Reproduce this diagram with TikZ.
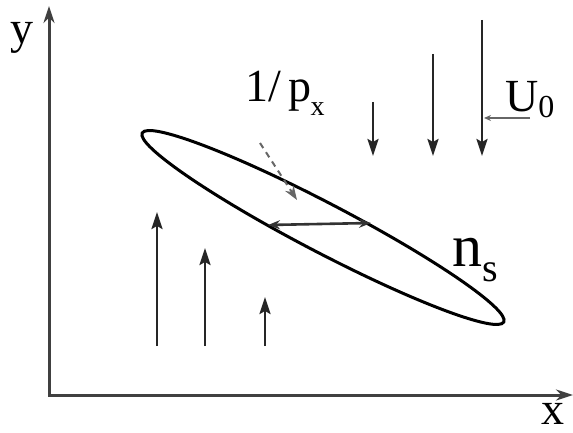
\documentclass[tikz,border=0pt]{standalone}
\usepackage{fontspec}
\setmainfont{Liberation Serif}
\usetikzlibrary{arrows.meta}
\tikzset{
  axisline/.style={line width=3pt, draw=black!75, {Stealth[length=17pt,width=11pt]}-{Stealth[length=17pt,width=11pt]}},
  flowarrow/.style={line width=2.6pt, draw=black!85, -{Stealth[length=17pt,width=11pt,inset=3pt]}},
  chord/.style={line width=2.6pt, draw=black!80, {Stealth[length=12pt,width=9pt]}-{Stealth[length=12pt,width=9pt]}},
  dasharrow/.style={line width=2pt, draw=black!60, dash pattern=on 6pt off 5pt, -{Stealth[length=14pt,width=10pt]}},
  leader/.style={line width=1.8pt, draw=black!60, -{Stealth[length=7pt,width=6pt]}},
  lbl/.style={inner sep=0pt, font=\fontsize{46}{50}\selectfont},
  biglbl/.style={inner sep=0pt, font=\fontsize{60}{64}\selectfont},
}
\begin{document}
\begin{tikzpicture}[x=1pt,y=-1pt]
\useasboundingbox (0,0) rectangle (573,433);
% axes
\coordinate (O) at (49,395);
\coordinate (Ytip) at (49,6);
\coordinate (Xtip) at (573,395);
\draw[axisline] (Ytip) -- (O) -- (Xtip);
\node[lbl] (ylab) at (22,38) {y};
\node[lbl, anchor=base] (xlab) at (553,424) {x};
% ellipse
\coordinate (C) at (323,227.5);
\draw[line width=3pt, rotate around={-27.6:(C)}] (C) ellipse [x radius=204, y radius=24.5];
% chord
\coordinate (ch1) at (268,225);
\coordinate (ch2) at (371,223);
\draw[chord] (ch1) -- (ch2);
% upward arrows
\coordinate (u1s) at (157,346); \coordinate (u1e) at (157,212);
\coordinate (u2s) at (205,346); \coordinate (u2e) at (205,248);
\coordinate (u3s) at (265,346); \coordinate (u3e) at (265,297);
\draw[flowarrow] (u1s) -- (u1e);
\draw[flowarrow] (u2s) -- (u2e);
\draw[flowarrow] (u3s) -- (u3e);
% downward arrows
\coordinate (d1s) at (373,102); \coordinate (d1e) at (373,156);
\coordinate (d2s) at (433,54); \coordinate (d2e) at (433,156);
\coordinate (d3s) at (482,20); \coordinate (d3e) at (482,156);
\draw[flowarrow] (d1s) -- (d1e);
\draw[flowarrow] (d2s) -- (d2e);
\draw[flowarrow] (d3s) -- (d3e);
% labels
\node[lbl, anchor=base west] (plab) at (245,102) {1/\,p\kern-1pt\raisebox{-0.3em}{\fontsize{28}{30}\selectfont x}};
\coordinate (dsA) at (260,143);
\coordinate (dsB) at (297,200);
\draw[dasharrow] (dsA) -- (dsB);
\node[lbl, anchor=base west] (ulab) at (505,112) {U\raisebox{-0.12em}{\fontsize{32}{34}\selectfont 0}};
\coordinate (ldA) at (530,118);
\coordinate (ldB) at (484,118);
\draw[leader] (ldA) -- (ldB);
\node[biglbl, anchor=base west] (nlab) at (452,266) {n\raisebox{-0.25em}{\fontsize{40}{42}\selectfont s}};
\end{tikzpicture}
\end{document}
